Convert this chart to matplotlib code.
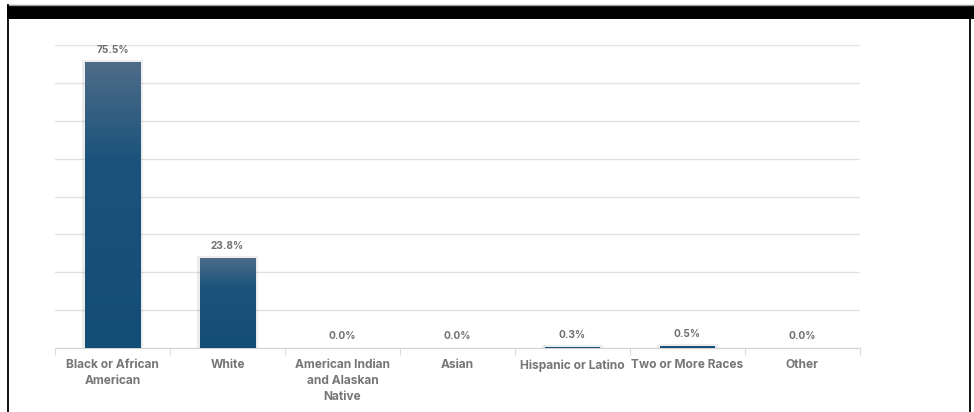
import numpy as np
import matplotlib
matplotlib.use('Agg')
import matplotlib.pyplot as plt
from matplotlib.patches import Rectangle
from matplotlib.colors import LinearSegmentedColormap
from matplotlib.lines import Line2D

plt.rcParams['font.family'] = ['Inter', 'DejaVu Sans']

# Дані
categories = ['Black or African\nAmerican', 'White', 'American Indian\nand Alaskan\nNative',
              'Asian', 'Hispanic or Latino', 'Two or More Races', 'Other']
values = [75.5, 23.8, 0.0, 0.0, 0.3, 0.5, 0.0]
labels = ['75.5%', '23.8%', '0.0%', '0.0%', '0.3%', '0.5%', '0.0%']
y_ticks = [0, 10, 20, 30, 40, 50, 60, 70, 80]

W, H = 974, 412
fig = plt.figure(figsize=(W / 100, H / 100), dpi=100)

# Рамка і чорна смуга зверху
fig.add_artist(Rectangle((7 / W, 1 - 19 / H), 1 - 7 / W, 14 / H, transform=fig.transFigure,
                         facecolor='black', edgecolor='none'))
fig.add_artist(Line2D([7 / W, 1], [1 - 4.5 / H, 1 - 4.5 / H], transform=fig.transFigure,
                      color='#9a9a9a', lw=1))
fig.add_artist(Line2D([7.5 / W, 7.5 / W], [0, 1 - 5 / H], transform=fig.transFigure,
                      color='black', lw=1.3))
fig.add_artist(Line2D([969.5 / W, 969.5 / W], [0, 1 - 19 / H], transform=fig.transFigure,
                      color='black', lw=1.3))

ax = fig.add_axes([55 / W, 64 / H, 805 / W, 303 / H])
x = np.arange(len(categories))

ax.set_yticks(y_ticks)
ax.set_yticklabels([])
ax.tick_params(axis='y', length=0)
ax.grid(axis='y', color='#e2e2e2', lw=1)
ax.set_axisbelow(True)
for s in ['top', 'right', 'left']:
    ax.spines[s].set_visible(False)
ax.spines['bottom'].set_color('#d4d4d4')

# Межі категорій як поділки
ax.set_xticks(np.arange(len(categories) + 1) - 0.5, minor=True)
ax.tick_params(axis='x', which='minor', length=5, color='#d4d4d4')
ax.set_xticks(x)
ax.set_xticklabels(categories, fontsize=8.6, fontweight='bold', color='#767676', linespacing=1.42)
ax.tick_params(axis='x', which='major', length=0, pad=8)

cmap = LinearSegmentedColormap.from_list('bar', [(0, '#4e6c89'), (0.35, '#1a527b'), (1, '#134e77')])
grad = np.linspace(1, 0, 256).reshape(-1, 1)
width = 0.48
for xi, v, lab in zip(x, values, labels):
    if v > 0:
        # тінь
        ax.add_patch(Rectangle((xi - width / 2 - 0.025, 0), width + 0.05, v + 0.5,
                               facecolor='#000000', alpha=0.07, edgecolor='none', zorder=2))
        bars = ax.bar(xi, v, width=width, color='#1a527b', zorder=3)
        if v > 2:
            im = ax.imshow(1 - grad, cmap=cmap, aspect='auto', zorder=3.5,
                           extent=(xi - width / 2, xi + width / 2, 0, v), vmin=0, vmax=1)
            im.set_clip_path(bars[0])
    ax.annotate(lab, (xi, v), xytext=(0, 5), textcoords='offset points', ha='center',
                va='bottom', fontsize=7.3, fontweight='bold', color='#707070')

ax.set_xlim(-0.5, len(categories) - 0.5)
ax.set_ylim(0, 80)

plt.savefig('out.png', dpi=100)
